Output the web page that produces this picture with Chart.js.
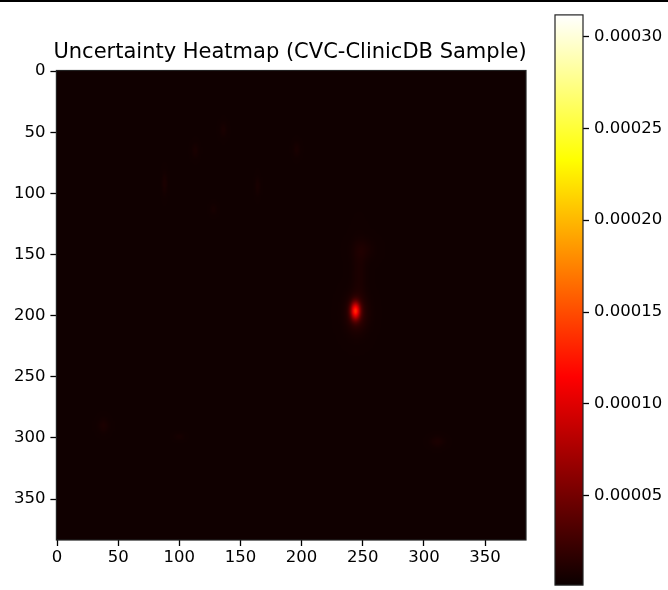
<!DOCTYPE html>
<html>
<head>
<meta charset="utf-8">
<script src="https://cdn.jsdelivr.net/npm/chart.js@4.4.1/dist/chart.umd.min.js"></script>
<style>
    html, body { margin: 0; padding: 0; background: #fff; overflow: hidden; }
    #wrap { position: relative; width: 668px; height: 590px; overflow: hidden; }
    #topline { position: absolute; left: 0; top: 0; width: 668px; height: 2px; background: #000; }
    #main { position: absolute; left: 0; top: 0; }
    #cbar { position: absolute; left: 540px; top: 0; }
</style>
</head>
<body>
<div id="wrap">
    <canvas id="main" width="580" height="590"></canvas>
    <canvas id="cbar" width="128" height="600"></canvas>
    <div id="topline"></div>
</div>
<script>
// Image is 384 x 384 pixels
const imageSize = 384;
const xTicks = [0, 50, 100, 150, 200, 250, 300, 350];
const yTicks = [0, 50, 100, 150, 200, 250, 300, 350];
const colorTicks = [0.00005, 0.0001, 0.00015, 0.0002, 0.00025, 0.0003];
const valueMin = 0.0000013;
const valueMax = 0.0003118;
const backgroundValue = 0.000004;

// bright and faint spots (image pixel coords)
const spotX      = [244, 245, 247, 250, 88, 113, 136, 164, 128, 38, 100, 311, 196];
const spotY      = [196, 198, 165, 146, 92, 65, 48, 94, 113, 290, 299, 303, 64];
const spotSizeX  = [2.6, 6, 4, 6, 1.5, 2, 2, 1.5, 2, 3, 3, 4, 2];
const spotSizeY  = [4.8, 10, 16, 6, 6, 4, 4, 5, 3, 4, 2, 3, 4];
const spotPeak   = [0.000112, 0.000018, 0.000005, 0.000005, 0.000005, 0.000004, 0.000004,
                    0.000004, 0.000003, 0.000005, 0.000003, 0.000005, 0.000004];

Chart.defaults.font.family = "'DejaVu Sans', sans-serif";
Chart.defaults.color = '#000';

// matplotlib "hot" colormap
function hot(t) {
    t = Math.max(0, Math.min(1, t));
    let r, g, b;
    r = t < 0.365079 ? 0.0416 + (1 - 0.0416) * t / 0.365079 : 1;
    g = t < 0.365079 ? 0 : (t < 0.746032 ? (t - 0.365079) / (0.746032 - 0.365079) : 1);
    b = t < 0.746032 ? 0 : (t - 0.746032) / (1 - 0.746032);
    return [r * 255, g * 255, b * 255];
}

function buildHeatmap() {
    const off = document.createElement('canvas');
    off.width = imageSize;
    off.height = imageSize;
    const c = off.getContext('2d');
    const img = c.createImageData(imageSize, imageSize);
    for (let row = 0; row < imageSize; row++) {
        for (let col = 0; col < imageSize; col++) {
            let v = backgroundValue;
            for (let i = 0; i < spotX.length; i++) {
                const dx = (col - spotX[i]) / spotSizeX[i];
                const dy = (row - spotY[i]) / spotSizeY[i];
                v += spotPeak[i] * Math.exp(-(dx * dx + dy * dy) / 2);
            }
            const rgb = hot((v - valueMin) / (valueMax - valueMin));
            const k = (row * imageSize + col) * 4;
            img.data[k] = rgb[0];
            img.data[k + 1] = rgb[1];
            img.data[k + 2] = rgb[2];
            img.data[k + 3] = 255;
        }
    }
    c.putImageData(img, 0, 0);
    return off;
}

const heatmapImage = buildHeatmap();

const heatmapPlugin = {
    id: 'heatmap',
    beforeDatasetsDraw(chart) {
        const { ctx, scales } = chart;
        const x0 = scales.x.getPixelForValue(-0.5);
        const x1 = scales.x.getPixelForValue(imageSize - 0.5);
        const y0 = scales.y.getPixelForValue(-0.5);
        const y1 = scales.y.getPixelForValue(imageSize - 0.5);
        ctx.save();
        ctx.imageSmoothingEnabled = true;
        ctx.drawImage(heatmapImage, x0, y0, x1 - x0, y1 - y0);
        ctx.restore();
    }
};

const framePlugin = {
    id: 'frame',
    afterDraw(chart) {
        const a = chart.chartArea;
        const ctx = chart.ctx;
        ctx.save();
        ctx.strokeStyle = '#222';
        ctx.lineWidth = 1.2;
        ctx.strokeRect(a.left, a.top, a.right - a.left, a.bottom - a.top);
        ctx.restore();
    }
};

const colorbarPlugin = {
    id: 'colorbar',
    beforeDatasetsDraw(chart) {
        const { ctx, scales } = chart;
        const a = chart.chartArea;
        const yBottom = scales.y.getPixelForValue(valueMin);
        const yTop = scales.y.getPixelForValue(valueMax);
        const grad = ctx.createLinearGradient(0, yBottom, 0, yTop);
        [0, 0.365079, 0.746032, 1].forEach(t => {
            const c = hot(t);
            grad.addColorStop(t, `rgb(${c[0]}, ${c[1]}, ${c[2]})`);
        });
        ctx.save();
        ctx.fillStyle = grad;
        ctx.fillRect(a.left, yTop, a.right - a.left, yBottom - yTop);
        ctx.restore();
    }
};

const tickFont = { size: 16.5 };
const tickGrid = { drawOnChartArea: false, drawTicks: true, tickLength: 6, tickWidth: 1.3, tickColor: '#000' };

new Chart(document.getElementById('main'), {
    type: 'scatter',
    data: { datasets: [{ data: [] }] },
    options: {
        responsive: false,
        animation: false,
        layout: { padding: 0 },
        plugins: {
            legend: { display: false },
            tooltip: { enabled: false },
            title: {
                display: true,
                text: 'Uncertainty Heatmap (CVC-ClinicDB Sample)',
                color: '#000',
                font: { size: 21, weight: 'normal' },
                padding: { top: 40, bottom: 5.3 }
            }
        },
        scales: {
            x: {
                type: 'linear',
                min: -0.5,
                max: imageSize - 0.5,
                afterBuildTicks: s => { s.ticks = xTicks.map(v => ({ value: v })); },
                afterFit: s => { s.height = 50; },
                border: { display: false },
                grid: tickGrid,
                ticks: { font: tickFont, padding: 2, maxRotation: 0, autoSkip: false }
            },
            y: {
                type: 'linear',
                reverse: true,
                min: -0.5,
                max: imageSize - 0.5,
                afterBuildTicks: s => { s.ticks = yTicks.map(v => ({ value: v })); },
                afterFit: s => { s.width = 56.4; },
                border: { display: false },
                grid: tickGrid,
                ticks: { font: tickFont, padding: 5, autoSkip: false }
            },
            // empty right axis keeps the plot clear of the colorbar and the title centred on the figure
            spacer: {
                type: 'linear',
                position: 'right',
                afterFit: s => { s.width = 54; },
                border: { display: false },
                grid: { display: false },
                ticks: { display: false }
            }
        }
    },
    plugins: [heatmapPlugin, framePlugin]
});

new Chart(document.getElementById('cbar'), {
    type: 'scatter',
    data: { datasets: [{ data: [] }] },
    options: {
        responsive: false,
        animation: false,
        layout: { padding: { left: 15, right: 0, top: 13, bottom: 7 } },
        plugins: { legend: { display: false }, tooltip: { enabled: false } },
        scales: {
            x: { display: false, min: 0, max: 1 },
            y: {
                type: 'linear',
                position: 'right',
                min: valueMin,
                max: valueMax,
                afterBuildTicks: s => { s.ticks = colorTicks.map(v => ({ value: v })); },
                afterFit: s => { s.width = 85; },
                border: { display: false },
                grid: tickGrid,
                ticks: { font: tickFont, padding: 5, autoSkip: false, callback: v => v.toFixed(5) }
            }
        }
    },
    plugins: [colorbarPlugin, framePlugin]
});
</script>
</body>
</html>
